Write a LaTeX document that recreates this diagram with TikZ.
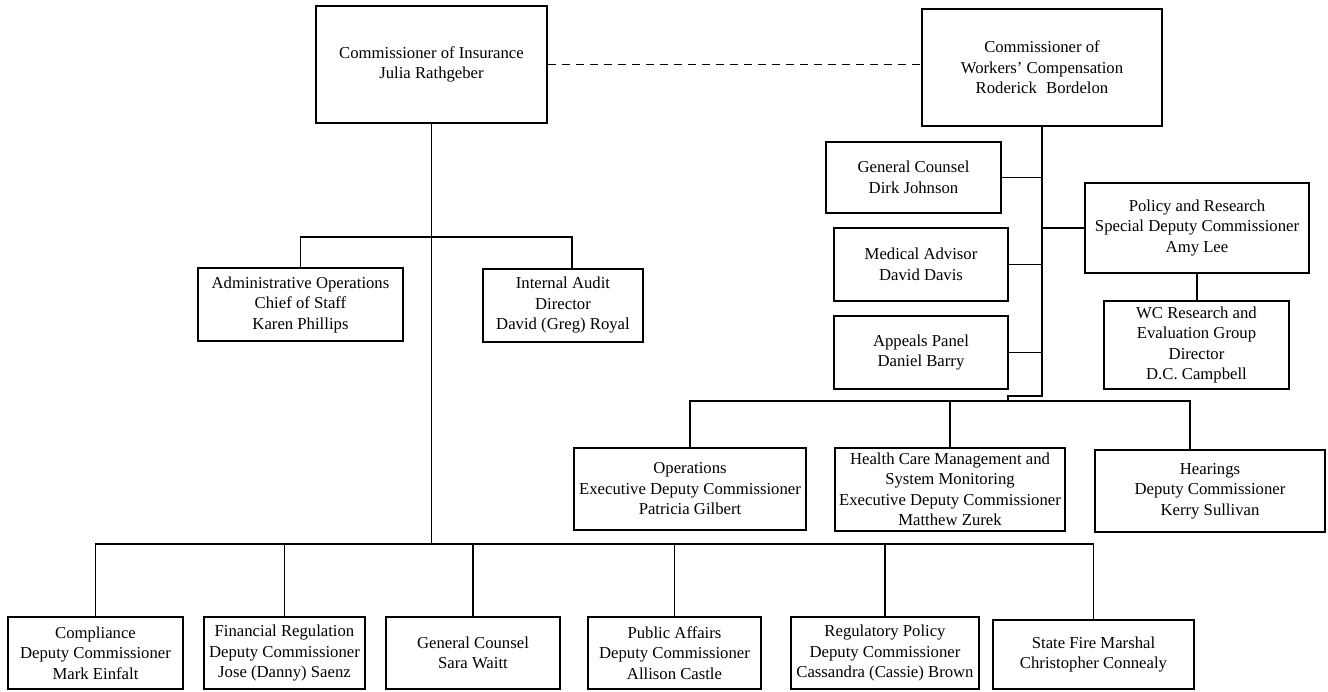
\documentclass[tikz,border=0pt]{standalone}
\usepackage{fontspec}
\setmainfont{Liberation Serif}
\begin{document}
\begin{tikzpicture}[x=1pt,y=-1pt,
  box/.style={draw, line width=1.4pt, inner sep=0pt, align=center, font=\fontsize{16.7}{20.5}\selectfont},
  link/.style={line width=1.4pt},
  dashlink/.style={line width=1.4pt, dash pattern=on 8pt off 6pt}]
\useasboundingbox (0,0) rectangle (1328,691);
% top level
\node[box, minimum width=231, minimum height=117] (ci) at (431.5,64.5) {Commissioner of Insurance\\Julia Rathgeber};
\node[box, minimum width=240, minimum height=117] (wc) at (1042,67.5) {Commissioner of\\Workers’ Compensation\\Roderick\hspace{0.3em} Bordelon};
% insurance second level
\node[box, minimum width=205, minimum height=73] (adm) at (300.5,304.5) {Administrative Operations\\Chief of Staff\\Karen Phillips};
\node[box, minimum width=160, minimum height=73] (aud) at (563,305.5) {Internal Audit\\Director\\David (Greg) Royal};
% workers' comp staff
\node[box, minimum width=175, minimum height=71] (gcw) at (913.5,177.5) {General Counsel\\Dirk Johnson};
\node[box, minimum width=174, minimum height=73] (med) at (921,264.5) {Medical Advisor\\David Davis};
\node[box, minimum width=174, minimum height=73] (app) at (921,352.5) {Appeals Panel\\Daniel Barry};
\node[box, minimum width=224, minimum height=90] (pol) at (1197,228) {Policy and Research\\Special Deputy Commissioner\\Amy Lee};
\node[box, minimum width=185, minimum height=88] (wcr) at (1196.5,345) {WC Research and\\Evaluation Group\\Director\\D.C. Campbell};
% workers' comp divisions
\node[box, minimum width=232, minimum height=82] (ops) at (690,489) {Operations\\Executive Deputy Commissioner\\Patricia Gilbert};
\node[box, minimum width=230, minimum height=83] (hcm) at (950,489.5) {Health Care Management and\\System Monitoring\\Executive Deputy Commissioner\\Matthew Zurek};
\node[box, minimum width=230, minimum height=82] (hear) at (1210,491) {Hearings\\Deputy Commissioner\\Kerry Sullivan};
% insurance bottom row
\node[box, minimum width=175, minimum height=72] (comp) at (95.5,653) {Compliance\\Deputy Commissioner\\Mark Einfalt};
\node[box, minimum width=161, minimum height=72] (fin) at (284.5,653) {Financial Regulation\\Deputy Commissioner\\Jose (Danny) Saenz};
\node[box, minimum width=174, minimum height=72] (sara) at (473,653) {General Counsel\\Sara Waitt};
\node[box, minimum width=173, minimum height=72] (pub) at (674.5,653) {Public Affairs\\Deputy Commissioner\\Allison Castle};
\node[box, minimum width=188, minimum height=72] (reg) at (885,653) {Regulatory Policy\\Deputy Commissioner\\Cassandra (Cassie) Brown};
\node[box, minimum width=201, minimum height=69] (fire) at (1093.5,654.5) {State Fire Marshal\\Christopher Connealy};
% connectors
\draw[dashlink] (ci.east) -- (ci.east -| wc.west);
\coordinate (lb) at (0,544);
\coordinate (mb) at (0,237);
\draw[link] (ci.south) -- (ci.south |- lb);
\draw[link] (comp.north) -- (comp.north |- lb) -- (fire.north |- lb) -- (fire.north);
\foreach \n in {fin,sara,pub,reg} \draw[link] (\n.north) -- (\n.north |- lb);
\draw[link] (adm.north) -- (adm.north |- mb) -- ([xshift=9pt]aud.north |- mb) -- ([xshift=9pt]aud.north);
\coordinate (jog) at (1008,396);
\coordinate (wb) at (0,401);
\draw[link] (wc.south) -- (wc.south |- jog) -- (jog) -- (jog |- wb);
\draw[link] (ops.north) -- (ops.north |- wb) -- ([xshift=-20pt]hear.north |- wb) -- ([xshift=-20pt]hear.north);
\draw[link] (hcm.north) -- (hcm.north |- wb);
\draw[link] (gcw.east) -- (gcw.east -| wc.south);
\draw[link] (med.east) -- (med.east -| wc.south);
\draw[link] (app.east) -- (app.east -| wc.south);
\draw[link] (pol.west) -- (pol.west -| wc.south);
\draw[link] (pol.south) -- (pol.south |- wcr.north);
\end{tikzpicture}
\end{document}
